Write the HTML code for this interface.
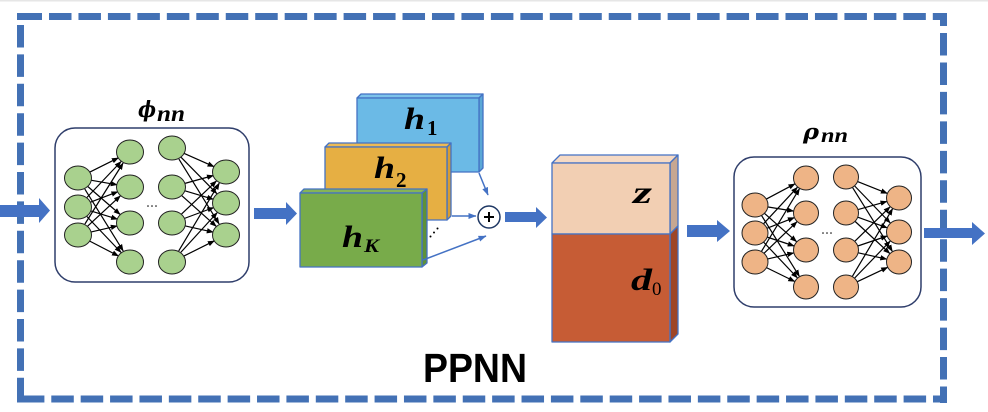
<!DOCTYPE html>
<html><head><meta charset="utf-8"><style>
html,body{margin:0;padding:0;background:#fff;}
svg{display:block;}
</style></head><body>
<svg width="988" height="412" viewBox="0 0 988 412" xmlns="http://www.w3.org/2000/svg">
<defs>
<marker id="ah" markerUnits="userSpaceOnUse" markerWidth="7" markerHeight="6" refX="6.5" refY="3" orient="auto"><path d="M0,0.3 L7,3 L0,5.7 Z" fill="#000"/></marker>
<marker id="bh" markerUnits="userSpaceOnUse" markerWidth="8" markerHeight="6" refX="7.5" refY="3" orient="auto"><path d="M0,0 L8,3 L0,6 Z" fill="#4472C4"/></marker>
</defs>
<rect x="0" y="0" width="988" height="1.5" fill="#e6e6e6"/>
<!-- dashed frame -->
<g stroke="#4371B5" stroke-width="7" fill="none">
<line x1="17" y1="16.5" x2="42" y2="16.5"/>
<line x1="49" y1="16.5" x2="947" y2="16.5" stroke-dasharray="22.5 6.96"/>
<line x1="943.5" y1="13" x2="943.5" y2="403" stroke-dasharray="22.5 6.96" stroke-dashoffset="9.46"/>
<line x1="20.5" y1="25" x2="20.5" y2="402.5" stroke-dasharray="22.5 6.9"/>
<line x1="21.9" y1="399" x2="947" y2="399" stroke-dasharray="22.5 6.89"/>
<line x1="17" y1="399" x2="24" y2="399"/>
</g>
<!-- block arrows -->
<g fill="#4472C4">
<polygon points="0,205 39,205 39,198 50,210.5 39,223 39,217 0,217"/>
<polygon points="254,208 286,208 286,202 297,213.5 286,225 286,219 254,219"/>
<polygon points="505,212 536,212 536,207 547,217.5 536,228 536,222 505,222"/>
<polygon points="687,225 717,225 717,220 730,231 717,242 717,237 687,237"/>
<polygon points="924,228 972,228 972,222 985,233.5 972,245 972,238 924,238"/>
</g>
<!-- phi box -->
<rect x="55" y="128" width="194" height="154" rx="20" fill="#fff" stroke="#2F3E6B" stroke-width="1.5"/>
<g stroke="#000" stroke-width="1.2" marker-end="url(#ah)">
<line x1="89.6" y1="172.2" x2="118.4" y2="157.8"/>
<line x1="90.8" y1="180.2" x2="117.2" y2="184.8"/>
<line x1="87.8" y1="186.5" x2="120.2" y2="214.5"/>
<line x1="84.8" y1="189.1" x2="123.2" y2="250.9"/>
<line x1="86.9" y1="197.5" x2="121.1" y2="161.5"/>
<line x1="90.1" y1="202.3" x2="117.9" y2="191.7"/>
<line x1="90.4" y1="210.8" x2="117.6" y2="219.2"/>
<line x1="86.9" y1="216.5" x2="121.1" y2="252.5"/>
<line x1="84.9" y1="224.0" x2="123.1" y2="163.0"/>
<line x1="87.6" y1="226.2" x2="120.4" y2="195.8"/>
<line x1="90.7" y1="232.1" x2="117.3" y2="225.9"/>
<line x1="89.5" y1="241.0" x2="118.5" y2="256.0"/>
<line x1="183.9" y1="153.3" x2="214.1" y2="166.7"/>
<line x1="181.1" y1="157.3" x2="216.9" y2="193.7"/>
<line x1="178.9" y1="159.1" x2="219.1" y2="223.9"/>
<line x1="184.5" y1="183.5" x2="213.5" y2="175.5"/>
<line x1="184.5" y1="190.7" x2="213.5" y2="199.3"/>
<line x1="181.7" y1="195.6" x2="216.3" y2="226.4"/>
<line x1="181.5" y1="214.1" x2="216.5" y2="180.9"/>
<line x1="184.2" y1="218.5" x2="213.8" y2="207.5"/>
<line x1="184.7" y1="225.8" x2="213.3" y2="232.2"/>
<line x1="178.7" y1="250.9" x2="219.3" y2="183.1"/>
<line x1="180.8" y1="252.4" x2="217.2" y2="212.6"/>
<line x1="183.6" y1="256.2" x2="214.4" y2="240.8"/>
</g>
<g fill="#A9D18E" stroke="#222" stroke-width="1">
<ellipse cx="78" cy="178" rx="13.5" ry="12"/>
<ellipse cx="78" cy="207" rx="13.5" ry="12"/>
<ellipse cx="78" cy="235" rx="13.5" ry="12"/>
<ellipse cx="130" cy="152" rx="13.5" ry="12"/>
<ellipse cx="130" cy="187" rx="13.5" ry="12"/>
<ellipse cx="130" cy="223" rx="13.5" ry="12"/>
<ellipse cx="130" cy="262" rx="13.5" ry="12"/>
<ellipse cx="172" cy="148" rx="13.5" ry="12"/>
<ellipse cx="172" cy="187" rx="13.5" ry="12"/>
<ellipse cx="172" cy="223" rx="13.5" ry="12"/>
<ellipse cx="172" cy="262" rx="13.5" ry="12"/>
<ellipse cx="226" cy="172" rx="13.5" ry="12"/>
<ellipse cx="226" cy="203" rx="13.5" ry="12"/>
<ellipse cx="226" cy="235" rx="13.5" ry="12"/>
</g>
<g fill="#000"><circle cx="148" cy="206" r="0.8"/><circle cx="152" cy="206" r="0.8"/><circle cx="156" cy="206" r="0.8"/></g>
<text x="138" y="117" font-family="DejaVu Serif, serif" font-weight="bold" font-style="italic" font-size="22" fill="#000" textLength="18" lengthAdjust="spacingAndGlyphs">ϕ</text>
<text x="157" y="121" font-family="Liberation Serif, serif" font-weight="bold" font-style="italic" font-size="23" fill="#000" textLength="28" lengthAdjust="spacingAndGlyphs">nn</text>

<!-- h blocks -->
<g stroke="#4472C4" stroke-width="1.3" stroke-linejoin="round">
<polygon points="357,98 361,94 483,94 479,98" fill="#7DC3EA"/>
<polygon points="479,98 483,94 483,168 479,172" fill="#5AA7D6"/>
<rect x="357" y="98" width="122" height="74" fill="#6BBAE6"/>
<polygon points="325,147 329,143 451,143 447,147" fill="#EDBB55"/>
<polygon points="447,147 451,143 451,216 447,220" fill="#D69D32"/>
<rect x="325" y="147" width="122" height="73" fill="#E6AF43"/>
<polygon points="300,193 304,189 427,189 422,193" fill="#85B457"/>
<polygon points="422,193 427,189 427,263 422,267" fill="#5E9138"/>
<rect x="300" y="193" width="122" height="74" fill="#78AB4A"/>
</g>
<g font-family="Liberation Serif, serif" font-weight="bold" fill="#000">
<text x="404" y="129" font-size="31" font-style="italic" textLength="21" lengthAdjust="spacingAndGlyphs">h</text>
<text x="427" y="135" font-size="21">1</text>
<text x="374" y="178" font-size="31" font-style="italic" textLength="21" lengthAdjust="spacingAndGlyphs">h</text>
<text x="396" y="187" font-size="21">2</text>
<text x="342" y="247" font-size="31" font-style="italic" textLength="21" lengthAdjust="spacingAndGlyphs">h</text>
<text x="364" y="252" font-size="19" font-style="italic" textLength="15" lengthAdjust="spacingAndGlyphs">K</text>
</g>
<!-- connectors to plus -->
<g stroke="#4472C4" stroke-width="1.5" fill="none" marker-end="url(#bh)">
<line x1="479" y1="173" x2="488" y2="195"/>
<line x1="452" y1="216" x2="476" y2="216"/>
<line x1="423" y1="260" x2="486" y2="236"/>
</g>
<g fill="#000"><circle cx="430.5" cy="236.5" r="1"/><circle cx="434" cy="232.5" r="1"/><circle cx="437.5" cy="228.5" r="1"/></g>
<circle cx="489" cy="217" r="11" fill="#fff" stroke="#1F3864" stroke-width="1.5"/>
<path d="M484,217 H494 M489,212 V222" stroke="#000" stroke-width="2"/>

<!-- z / d0 block -->
<g stroke="#4472C4" stroke-width="1.3" stroke-linejoin="round">
<polygon points="552,163 560,155 678,155 670,163" fill="#F6DAC4"/>
<polygon points="670,163 678,155 678,226 670,234" fill="#C7A791"/>
<rect x="552" y="163" width="118" height="71" fill="#F2CFB3"/>
<polygon points="670,234 678,226 678,334 670,342" fill="#9E4526"/>
<rect x="552" y="234" width="118" height="108" fill="#C65C35"/>
</g>
<text x="633" y="203" font-family="Liberation Serif, serif" font-weight="bold" font-style="italic" font-size="32" fill="#000" textLength="19" lengthAdjust="spacingAndGlyphs">z</text>
<text x="631" y="290" font-family="Liberation Serif, serif" font-weight="bold" font-style="italic" font-size="31" fill="#000" textLength="21" lengthAdjust="spacingAndGlyphs">d</text>
<text x="652" y="295" font-family="Liberation Serif, serif" font-size="19" fill="#000">0</text>

<!-- rho box -->
<rect x="734" y="157" width="187" height="150" rx="20" fill="#fff" stroke="#2F3E6B" stroke-width="1.5"/>
<g stroke="#000" stroke-width="1.2" marker-end="url(#ah)">
<line x1="766.1" y1="199.2" x2="795.0" y2="183.8"/>
<line x1="767.4" y1="206.9" x2="793.6" y2="211.1"/>
<line x1="764.4" y1="213.3" x2="796.6" y2="241.7"/>
<line x1="761.6" y1="215.6" x2="799.4" y2="276.4"/>
<line x1="763.5" y1="223.8" x2="797.5" y2="187.2"/>
<line x1="766.6" y1="228.4" x2="794.4" y2="217.6"/>
<line x1="766.9" y1="237.0" x2="794.2" y2="246.0"/>
<line x1="763.6" y1="242.1" x2="797.4" y2="277.9"/>
<line x1="761.5" y1="251.3" x2="799.5" y2="188.7"/>
<line x1="764.0" y1="253.3" x2="797.0" y2="221.7"/>
<line x1="767.2" y1="259.1" x2="793.8" y2="252.9"/>
<line x1="766.2" y1="267.5" x2="794.8" y2="281.5"/>
<line x1="857.6" y1="181.6" x2="887.4" y2="193.4"/>
<line x1="854.7" y1="186.0" x2="890.3" y2="223.0"/>
<line x1="852.6" y1="187.6" x2="892.4" y2="251.4"/>
<line x1="858.0" y1="209.6" x2="887.0" y2="201.4"/>
<line x1="857.8" y1="217.2" x2="887.2" y2="227.8"/>
<line x1="855.2" y1="221.5" x2="889.8" y2="253.5"/>
<line x1="854.9" y1="241.2" x2="890.1" y2="206.8"/>
<line x1="857.8" y1="246.0" x2="887.2" y2="236.0"/>
<line x1="858.2" y1="252.8" x2="886.8" y2="259.2"/>
<line x1="852.4" y1="276.3" x2="892.6" y2="208.7"/>
<line x1="854.7" y1="278.0" x2="890.3" y2="241.0"/>
<line x1="857.3" y1="281.7" x2="887.7" y2="267.3"/>
</g>
<g fill="#EEB486" stroke="#222" stroke-width="1">
<ellipse cx="755" cy="205" rx="13" ry="12"/>
<ellipse cx="755" cy="233" rx="13" ry="12"/>
<ellipse cx="755" cy="262" rx="13" ry="12"/>
<ellipse cx="806" cy="178" rx="12.5" ry="12"/>
<ellipse cx="806" cy="213" rx="12.5" ry="12"/>
<ellipse cx="806" cy="250" rx="12.5" ry="12"/>
<ellipse cx="806" cy="287" rx="12.5" ry="12"/>
<ellipse cx="846" cy="177" rx="12.5" ry="12"/>
<ellipse cx="846" cy="213" rx="12.5" ry="12"/>
<ellipse cx="846" cy="250" rx="12.5" ry="12"/>
<ellipse cx="846" cy="287" rx="12.5" ry="12"/>
<ellipse cx="899" cy="198" rx="12.5" ry="12"/>
<ellipse cx="899" cy="232" rx="12.5" ry="12"/>
<ellipse cx="899" cy="262" rx="12.5" ry="12"/>
</g>
<g fill="#000"><circle cx="823" cy="233" r="0.8"/><circle cx="827" cy="233" r="0.8"/><circle cx="831" cy="233" r="0.8"/></g>
<text x="803" y="139" font-family="DejaVu Serif, serif" font-weight="bold" font-style="italic" font-size="21" fill="#000" textLength="16" lengthAdjust="spacingAndGlyphs">ρ</text>
<text x="821" y="142" font-family="Liberation Serif, serif" font-weight="bold" font-style="italic" font-size="21" fill="#000" textLength="27" lengthAdjust="spacingAndGlyphs">nn</text>

<!-- PPNN -->
<text x="423" y="382" font-family="Liberation Sans, sans-serif" font-weight="bold" font-size="41" fill="#000" textLength="104" lengthAdjust="spacingAndGlyphs">PPNN</text>
</svg>
</body></html>
